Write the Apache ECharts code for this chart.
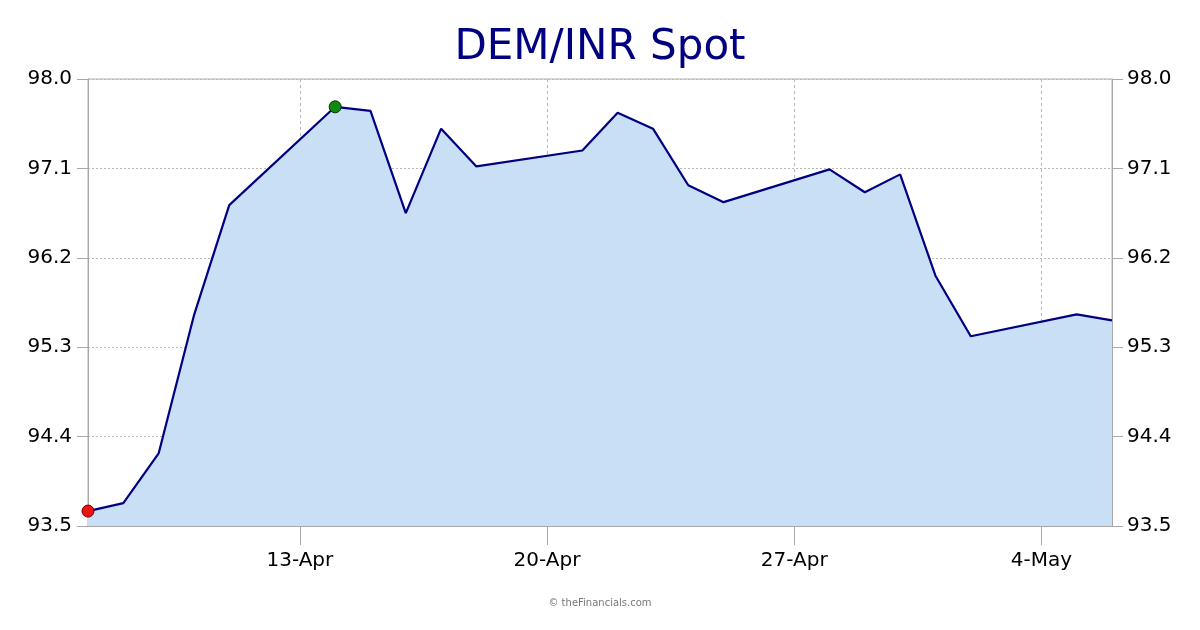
<!DOCTYPE html>
<html>
<head>
<meta charset="utf-8">
<script src="https://cdn.jsdelivr.net/npm/echarts@6/dist/echarts.min.js"></script>
<style>
html,body{margin:0;padding:0;background:#fff;}
#chart{width:1200px;height:630px;}
</style>
</head>
<body>
<div id="chart"></div>
<script>
// Calendar days shown on the x axis (7-Apr to 6-May)
const dates = ['7-Apr','8-Apr','9-Apr','10-Apr','11-Apr','12-Apr','13-Apr','14-Apr','15-Apr','16-Apr',
  '17-Apr','18-Apr','19-Apr','20-Apr','21-Apr','22-Apr','23-Apr','24-Apr','25-Apr','26-Apr',
  '27-Apr','28-Apr','29-Apr','30-Apr','1-May','2-May','3-May','4-May','5-May','6-May'];
// DEM/INR spot rate (null = no quote, weekend)
const rates = [93.65, 93.73, 94.23, 95.62, 96.73, null, null, 97.72, 97.68, 96.65,
  97.50, 97.12, null, null, 97.28, 97.66, 97.50, 96.93, 96.76, null,
  null, 97.09, 96.86, 97.04, 96.02, 95.41, null, null, 95.63, 95.57];
const tickLabels = ['13-Apr', '20-Apr', '27-Apr', '4-May'];
const yMin = 93.5, yMax = 98.0, yStep = 0.9;

const valid = rates.filter(v => v !== null);
const minV = Math.min(...valid), maxV = Math.max(...valid);
const seriesData = rates.map(v => {
  if (v === null) return null;
  if (v === minV) return {value: v, symbol: 'circle', symbolSize: 12, itemStyle: {color: '#ee1111', borderColor: '#660000', borderWidth: 1}};
  if (v === maxV) return {value: v, symbol: 'circle', symbolSize: 12, itemStyle: {color: '#118811', borderColor: '#003300', borderWidth: 1}};
  return {value: v, symbol: 'none'};
});
const isTick = (i, v) => tickLabels.indexOf(dates[i]) >= 0;

const font = 'DejaVu Sans, Verdana, sans-serif';
const chart = echarts.init(document.getElementById('chart'), null, {renderer: 'canvas'});
chart.setOption({
  animation: false,
  backgroundColor: '#ffffff',
  title: {
    text: 'DEM/INR Spot', left: 'center', top: 22,
    textStyle: {fontFamily: font, fontSize: 42, fontWeight: 'normal', color: '#000080'}
  },
  graphic: [{
    type: 'text', left: 'center', top: 598,
    style: {text: '© theFinancials.com', fontFamily: font, fontSize: 10, fill: '#777777'}
  }],
  grid: {left: 88, right: 88, top: 79, bottom: 104, show: true, borderColor: '#b0b0b0', borderWidth: 1},
  xAxis: {
    type: 'category', data: dates, boundaryGap: false,
    axisLine: {lineStyle: {color: '#a8a8a8'}},
    axisTick: {show: true, interval: isTick, length: 19, lineStyle: {color: '#a8a8a8'}},
    axisLabel: {interval: isTick, margin: 25, fontFamily: font, fontSize: 20, color: '#000'},
    splitLine: {show: true, interval: isTick, lineStyle: {color: '#b8b8b8', type: [3, 3], width: 1}}
  },
  yAxis: [{
    type: 'value', min: yMin, max: yMax, interval: yStep, position: 'left',
    axisLine: {show: true, lineStyle: {color: '#a8a8a8'}},
    axisTick: {show: true, length: 11, lineStyle: {color: '#a8a8a8'}},
    axisLabel: {margin: 16, padding: [4, 0, 0, 0], fontFamily: font, fontSize: 20, color: '#000', formatter: v => v.toFixed(1)},
    splitLine: {show: true, lineStyle: {color: '#b8b8b8', type: [2, 2], width: 1}}
  }, {
    type: 'value', min: yMin, max: yMax, interval: yStep, position: 'right',
    axisLine: {show: true, lineStyle: {color: '#a8a8a8'}},
    axisTick: {show: true, length: 11, lineStyle: {color: '#a8a8a8'}},
    axisLabel: {margin: 15, padding: [4, 0, 0, 0], fontFamily: font, fontSize: 20, color: '#000', formatter: v => v.toFixed(1)},
    splitLine: {show: false}
  }],
  series: [{
    type: 'line', data: seriesData, connectNulls: true, yAxisIndex: 0,
    showSymbol: true, symbol: 'none',
    lineStyle: {color: '#000080', width: 2.2},
    itemStyle: {color: '#000080'},
    areaStyle: {color: '#c8dff6', opacity: 1},
    z: 3
  }]
});
</script>
</body>
</html>
